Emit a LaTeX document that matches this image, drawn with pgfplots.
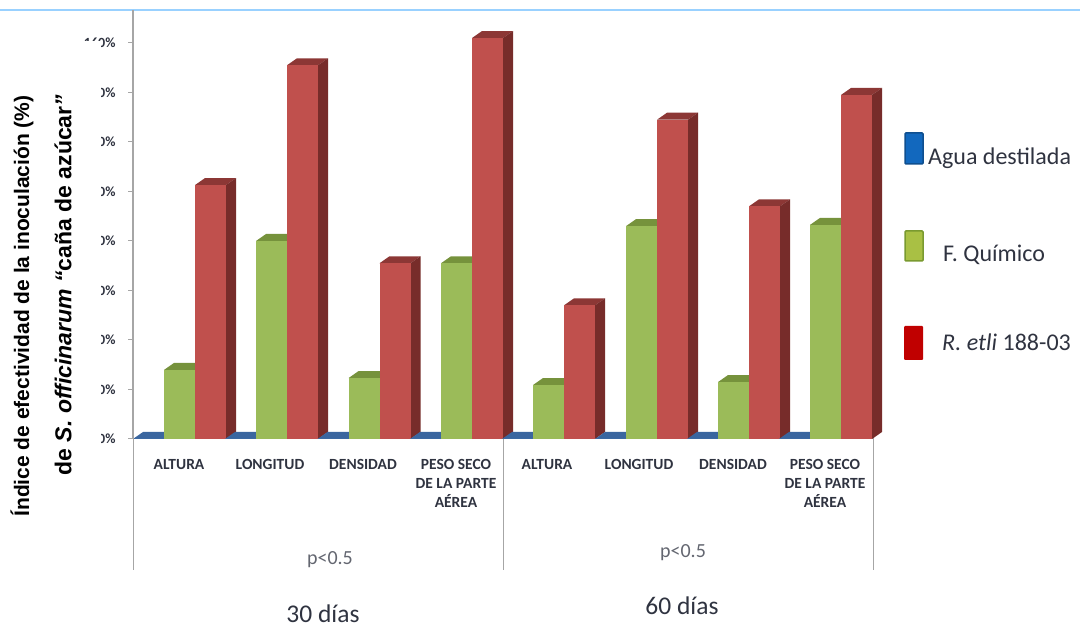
\documentclass[border=0pt]{standalone}
\usepackage{fontspec}
\setmainfont{Carlito}
\newfontfamily\labelfont{Liberation Sans}
\usepackage{pgfplots}
\pgfplotsset{compat=1.18}

\definecolor{redF}{HTML}{C0504D}\definecolor{redS}{HTML}{772C2A}\definecolor{redT}{HTML}{8C3735}
\definecolor{greenF}{HTML}{9BBB59}\definecolor{greenS}{HTML}{5F7530}\definecolor{greenT}{HTML}{76923C}
\definecolor{blueF}{HTML}{4F81BD}\definecolor{blueT}{HTML}{3A669F}
\definecolor{axisgrey}{HTML}{A6A6A6}\definecolor{txt}{HTML}{2F3340}

% One extruded column: left edge, value, front, side and top colours
\newcommand{\columnthreed}[5]{%
  \pgfmathsetmacro\xl{#1}\pgfmathsetmacro\xc{#1+15.5}\pgfmathsetmacro\xr{#1+31}%
  \pgfmathsetmacro\xlb{#1+10}\pgfmathsetmacro\xrb{#1+41}%
  \pgfmathsetmacro\dep{2.83}\pgfmathsetmacro\vb{#2+2.83}%
  \addplot[fill=#5,draw=none] coordinates {(\xl,#2)(\xlb,\vb)(\xrb,\vb)(\xr,#2)} --cycle;
  \addplot[fill=#4,draw=none] coordinates {(\xr,0)(\xrb,\dep)(\xrb,\vb)(\xr,#2)} --cycle;
  \addplot[ybar,bar width=31pt,bar shift=0pt,fill=#3,draw=none] coordinates {(\xc,#2)};
}
% One group of three columns: blue left edge, then the three values
\newcommand{\group}[4]{%
  \columnthreed{#1}{#2}{blueF}{blueT}{blueT}%
  \pgfmathsetmacro\xg{#1+31}\columnthreed{\xg}{#3}{greenF}{greenS}{greenT}%
  \pgfmathsetmacro\xh{#1+62}\columnthreed{\xh}{#4}{redF}{redS}{redT}%
}

\begin{document}
\begin{tikzpicture}
\useasboundingbox (0,0) rectangle (1080pt,627pt);
\begin{axis}[
  at={(133pt,188pt)},anchor=south west,
  scale only axis,width=741pt,height=429pt,
  xmin=133,xmax=874,ymin=0,ymax=173.33,clip=false,
  axis x line=bottom,axis y line=left,
  axis line style={-,axisgrey,line width=1pt},
  xtick=\empty,
  ytick={0,20,40,60,80,100,120,140,160},
  yticklabel={\pgfmathprintnumber{\tick}\%},
  /pgf/number format/assume math mode=true,
  yticklabel style={font=\fontsize{14}{14}\selectfont\bfseries,text=txt,xshift=-9pt},
  tick style={axisgrey,line width=1pt},
  major tick length=5pt,
  tick align=outside,
]
% 30 dias
\group{133}{0}{27.9}{102.6}
\group{225}{0}{80}{151}
\group{317.5}{0}{24.6}{71}
\group{410}{0}{71}{162}
% 60 dias
\group{502}{0}{21.8}{54}
\group{595}{0}{86}{129}
\group{687}{0}{23}{94}
\group{779}{0}{86.5}{139}
\end{axis}

\begin{scope}[x=1pt,y=-1pt,yshift=627pt]
  % mask over the left part of the tick labels
  \fill[white] (68,41) rectangle (101,450);
  % frame lines
  \draw[blue!45!cyan!40!white,line width=1.5pt] (0,10) -- (1080,10);
  \draw[axisgrey,line width=2.4pt] (133,10) -- (133,439);
  \draw[axisgrey,line width=1pt] (133,439) -- (133,570);
  \draw[axisgrey,line width=1pt] (503,439) -- (503,570);
  \draw[axisgrey,line width=1pt] (873,439) -- (873,570);

  % vertical titles
  \node[rotate=90,font=\labelfont\fontsize{21}{21}\selectfont\bfseries,text=black,inner sep=0pt] at (22,306) {Índice de efectividad de la inoculación (\%)};
  \node[rotate=90,font=\labelfont\fontsize{23}{23}\selectfont\bfseries,text=black,inner sep=0pt] at (63,285) {de \textit{S. officinarum “}caña de azúcar\textit{”}};

  % category labels
  \tikzset{cat/.style={font=\fontsize{15.5}{19}\selectfont\bfseries,text=txt,align=center,anchor=north,inner sep=0pt}}
  \node[cat] at (179,459) {ALTURA};
  \node[cat] at (270,459) {LONGITUD};
  \node[cat] at (363,459) {DENSIDAD};
  \node[cat] at (456,459) {PESO SECO\\DE LA PARTE\\AÉREA};
  \node[cat] at (547,459) {ALTURA};
  \node[cat] at (639,459) {LONGITUD};
  \node[cat] at (733,459) {DENSIDAD};
  \node[cat] at (825,459) {PESO SECO\\DE LA PARTE\\AÉREA};

  \node[font=\fontsize{20}{20}\selectfont,text=txt!75] at (330,560) {p<0.5};
  \node[font=\fontsize{20}{20}\selectfont,text=txt!75] at (683,553) {p<0.5};
  \node[font=\fontsize{25.5}{25.5}\selectfont,text=txt,inner sep=0pt] at (323,614) {30 días};
  \node[font=\fontsize{25.5}{25.5}\selectfont,text=txt,inner sep=0pt] at (682,606) {60 días};

  % key
  \definecolor{keyBlue}{HTML}{1268BE}\definecolor{keyBlueE}{HTML}{0F4F8F}
  \definecolor{keyGreen}{HTML}{A9C044}\definecolor{keyGreenE}{HTML}{7A9A30}
  \definecolor{keyRed}{HTML}{C00000}
  \draw[draw=keyBlueE,fill=keyBlue,line width=1.5pt,rounded corners=1pt] (905,133) rectangle (923,164);
  \draw[draw=keyGreenE,fill=keyGreen,line width=1.5pt,rounded corners=1pt] (905,231) rectangle (923,261);
  \fill[keyRed,rounded corners=1pt] (904,326) rectangle (923,360);
  \node[font=\fontsize{24}{24}\selectfont,text=txt,anchor=west,inner sep=0pt] at (928,158) {Agua destilada};
  \node[font=\fontsize{24}{24}\selectfont,text=txt,anchor=west,inner sep=0pt] at (943,255) {F. Químico};
  \node[font=\fontsize{24}{24}\selectfont,text=txt,anchor=west,inner sep=0pt] at (942,342) {\textit{R. etli} 188-03};
\end{scope}
\end{tikzpicture}
\end{document}
